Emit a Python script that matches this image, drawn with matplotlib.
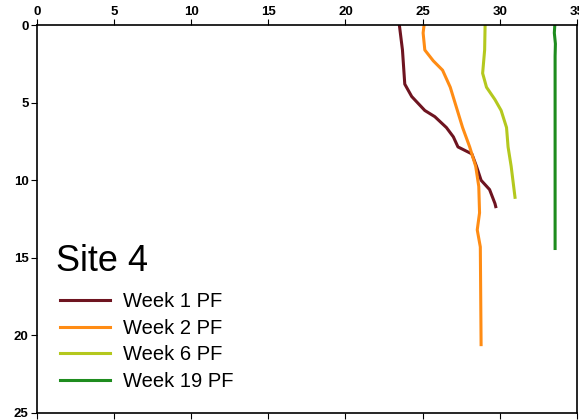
import matplotlib
matplotlib.use('Agg')
import matplotlib.pyplot as plt

plt.rcParams['font.family'] = ['Liberation Sans', 'DejaVu Sans']

# temperature (x) vs depth (y) profiles
week1_temp = [23.5, 23.7, 23.85, 24.3, 25.15, 25.8, 26.55, 27.0, 27.3, 28.2, 28.5, 28.8, 29.35, 29.7, 29.75]
week1_depth = [0.0, 1.6, 3.8, 4.6, 5.5, 5.9, 6.6, 7.2, 7.85, 8.3, 9.1, 10.0, 10.6, 11.5, 11.7]

week2_temp = [25.1, 25.04, 25.15, 25.7, 26.3, 26.8, 27.2, 27.6, 28.06, 28.45, 28.65, 28.7, 28.55, 28.75, 28.8]
week2_depth = [0.0, 0.5, 1.6, 2.3, 2.9, 4.0, 5.3, 6.6, 7.85, 9.1, 10.4, 12.1, 13.2, 14.3, 20.6]

week6_temp = [29.06, 29.03, 28.9, 29.15, 29.7, 30.1, 30.45, 30.55, 30.75, 31.0]
week6_depth = [0.0, 1.6, 3.1, 4.0, 4.8, 5.5, 6.6, 7.85, 9.1, 11.1]

week19_temp = [33.58, 33.55, 33.62, 33.6, 33.6]
week19_depth = [0.0, 0.5, 1.2, 2.0, 14.4]

labels = ['Week 1 PF', 'Week 2 PF', 'Week 6 PF', 'Week 19 PF']
colors = ['#6e1420', '#ff8c14', '#b4c81e', '#1e8c1e']

fig = plt.figure(figsize=(5.79, 4.2), dpi=100)
ax = fig.add_axes([0.064, 0.017, 0.932, 0.923])

series = [(week1_temp, week1_depth), (week2_temp, week2_depth),
          (week6_temp, week6_depth), (week19_temp, week19_depth)]
for (t, d), lab, c in zip(series, labels, colors):
    ax.plot(t, d, color=c, lw=2.2, label=lab)

ax.set_xlim(0, 35)
ax.set_ylim(25, 0)
ax.set_xticks(range(0, 36, 5))
ax.set_yticks(range(0, 26, 5))
ax.xaxis.tick_top()
ax.tick_params(axis='x', which='both', bottom=True, top=True, labelbottom=False,
               labeltop=True, direction='out', length=4, pad=1)
ax.tick_params(axis='y', direction='out', length=4, pad=2)
for lbl in ax.get_xticklabels() + ax.get_yticklabels():
    lbl.set_fontweight('bold')
    lbl.set_fontsize(9.5)
for s in ax.spines.values():
    s.set_linewidth(1.2)

ax.text(0.036, 0.39, 'Site 4', transform=ax.transAxes, fontsize=26, va='center')
ax.legend(loc='upper left', bbox_to_anchor=(0.024, 0.338), frameon=False,
          fontsize=14.5, handlelength=2.5, handletextpad=0.6, labelspacing=0.38,
          borderpad=0)

fig.savefig('out.png', dpi=100)
